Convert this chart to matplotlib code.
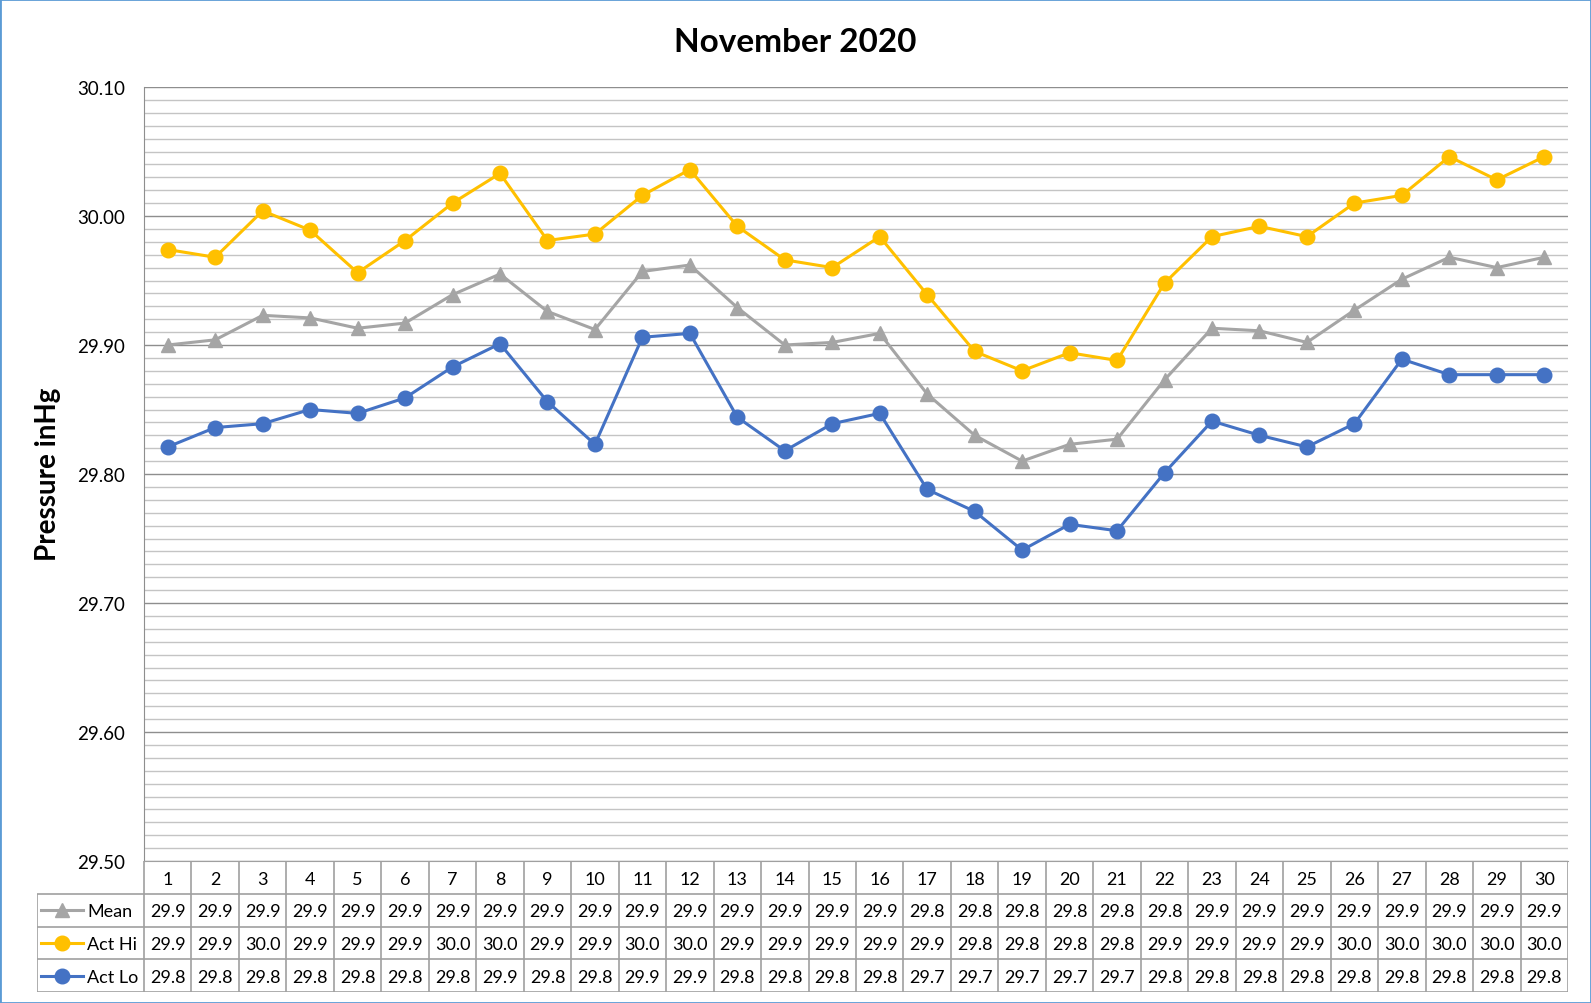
import numpy as np
import matplotlib
matplotlib.use("Agg")
import matplotlib.pyplot as plt
from matplotlib.ticker import MultipleLocator
from matplotlib.patches import Rectangle

plt.rcParams['font.family'] = ['Lato', 'DejaVu Sans']

# dias de novembro 2020
days = list(range(1, 31))

mean = [29.900, 29.904, 29.923, 29.921, 29.913, 29.917, 29.939, 29.955, 29.926, 29.912,
        29.957, 29.962, 29.929, 29.900, 29.902, 29.909, 29.862, 29.830, 29.810, 29.823,
        29.827, 29.873, 29.913, 29.911, 29.902, 29.927, 29.951, 29.968, 29.960, 29.968]
act_hi = [29.974, 29.968, 30.004, 29.989, 29.956, 29.981, 30.010, 30.033, 29.981, 29.986,
          30.016, 30.036, 29.992, 29.966, 29.960, 29.984, 29.939, 29.895, 29.880, 29.894,
          29.888, 29.948, 29.984, 29.992, 29.984, 30.010, 30.016, 30.046, 30.028, 30.046]
act_lo = [29.821, 29.836, 29.839, 29.850, 29.847, 29.859, 29.883, 29.901, 29.856, 29.823,
          29.906, 29.909, 29.844, 29.818, 29.839, 29.847, 29.788, 29.771, 29.741, 29.761,
          29.756, 29.801, 29.841, 29.830, 29.821, 29.839, 29.889, 29.877, 29.877, 29.877]

series_names = ['Mean', 'Act Hi', 'Act Lo']
series_vals = [mean, act_hi, act_lo]
colors = ['#A5A5A5', '#FFC000', '#4472C4']
markers = ['^', 'o', 'o']

W, H = 1591, 1004
fig = plt.figure(figsize=(W / 100, H / 100), dpi=100)

# area do grafico (em pixels)
L, R, T, B = 144, 1568, 88, 862
ax = fig.add_axes([L / W, 1 - B / H, (R - L) / W, (B - T) / H])

x = np.array(days)
for name, vals, c, m in zip(series_names, series_vals, colors, markers):
    ax.plot(x, vals, color=c, lw=2.2, marker=m, ms=10.5, label=name, zorder=3)

ax.set_xlim(0.5, 30.5)
ax.set_ylim(29.50, 30.10)
ax.yaxis.set_major_locator(MultipleLocator(0.1))
ax.yaxis.set_minor_locator(MultipleLocator(0.01))
ax.yaxis.set_major_formatter(lambda v, p: f"{v:.2f}")
ax.grid(True, which='major', axis='y', color='#8E8E8E', lw=1.0)
ax.grid(True, which='minor', axis='y', color='#C4C4C4', lw=1.0)
ax.set_axisbelow(True)
ax.set_xticks([])
ax.tick_params(axis='y', which='both', length=0, labelsize=13.5, pad=13.5)
for s in ['top', 'right']:
    ax.spines[s].set_visible(False)
ax.spines['left'].set_color('#8E8E8E')
ax.spines['bottom'].set_color('#A0A0A0')

# tabela de dados
TL, TB = 37, 993
tax = fig.add_axes([TL / W, 1 - TB / H, (R - TL) / W, (TB - B) / H])
cw = (R - L) / 30
x0 = 0.5 - (L - TL) / cw
tax.set_xlim(x0, 30.5)
tax.set_ylim(4, 0)
tax.axis('off')

gc = '#A0A0A0'
tax.hlines([1, 2, 3, 4], x0, 30.5, color=gc, lw=1.2)
tax.hlines([0], 0.5, 30.5, color=gc, lw=1.2)
tax.vlines(np.arange(0.5, 31.5, 1), 0, 4, color=gc, lw=1.2)
tax.vlines([x0], 1, 4, color=gc, lw=1.2)

for d in days:
    tax.text(d, 0.55, str(d), ha='center', va='center', fontsize=13)

def trunc(v):
    return f"{np.floor(v * 10 + 1e-6) / 10:.1f}"

key_l = x0 + (41 - TL) / cw
key_r = x0 + (83 - TL) / cw
txt_x = x0 + (87 - TL) / cw
for i, (name, vals, c, m) in enumerate(zip(series_names, series_vals, colors, markers)):
    yr = i + 1.5
    tax.plot([key_l, key_r], [yr, yr], color=c, lw=2.2, clip_on=False)
    tax.plot([(key_l + key_r) / 2], [yr], color=c, marker=m, ms=10.5, clip_on=False)
    tax.text(txt_x, yr + 0.03, name, ha='left', va='center', fontsize=13)
    for d, v in zip(days, vals):
        tax.text(d, yr + 0.03, trunc(v), ha='center', va='center', fontsize=13)

fig.text(795 / W, 1 - 42 / H, 'November 2020', ha='center', va='center',
         fontsize=24, fontweight='bold')
fig.text(48 / W, 1 - 474 / H, 'Pressure inHg', ha='center', va='center',
         rotation=90, fontsize=20, fontweight='bold')

fig.add_artist(Rectangle((0, 0), 1, 1, transform=fig.transFigure, fill=False,
                         edgecolor='#5B9BD5', lw=2))

fig.savefig('out.png', dpi=100)
